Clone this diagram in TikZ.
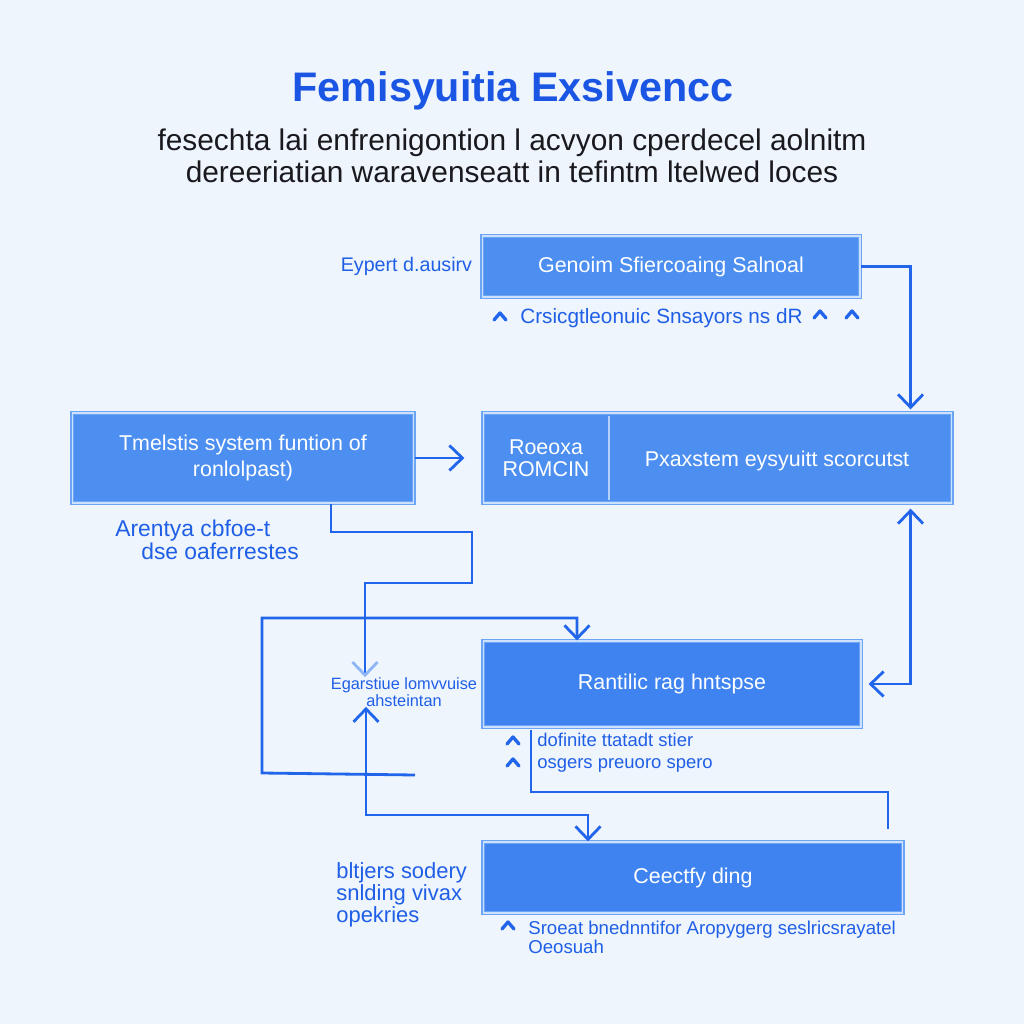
\documentclass[tikz,border=0pt]{standalone}
\usepackage{fontspec}
\setmainfont{Liberation Sans}
\usepackage{xcolor}
\usetikzlibrary{arrows.meta,positioning,calc}
\definecolor{pagebg}{RGB}{239,245,253}
\definecolor{boxc}{RGB}{76,143,241}
\definecolor{boxd}{RGB}{62,131,239}
\definecolor{edgec}{RGB}{108,165,246}
\definecolor{rimc}{RGB}{206,225,252}
\definecolor{linec}{RGB}{33,102,234}
\definecolor{titlec}{RGB}{26,85,227}
\definecolor{labc}{RGB}{31,95,230}
\definecolor{palec}{RGB}{140,182,245}
\definecolor{inkc}{RGB}{25,25,30}
\tikzset{
  >={Straight Barb[length=2.6mm,width=5mm]},
  blk/.style={draw=edgec,double=rimc,double distance=0.6pt,line width=0.7pt,
              fill=boxc,text=white,align=center,inner sep=0pt,
              font=\fontsize{12.2}{14.5}\selectfont},
  blktxt/.style={text=white,align=center,inner sep=0pt,
                 font=\fontsize{12.2}{12.5}\selectfont},
  split/.style={draw=rimc!80!boxc,line width=0.9pt},
  ttl/.style={text=titlec,font=\fontsize{23.5}{26}\selectfont\bfseries},
  subt/.style={text=inkc,align=center,font=\fontsize{17}{18.2}\selectfont},
  lbl/.style={text=labc,inner sep=0pt,align=left,font=\fontsize{11.8}{12}\selectfont},
  lbls/.style={lbl,font=\fontsize{9.3}{8.6}\selectfont},
  conn/.style={draw=linec,line width=1.6pt},
  thinconn/.style={draw=linec,line width=1.2pt},
  caret/.pic={\draw[line width=1.9pt,linec,line cap=round,line join=round]
              (-6,4) -- (0,-3) -- (6,4);},
}

\begin{document}
\begin{tikzpicture}[x=0.02cm,y=-0.02cm]
  \fill[pagebg] (0,0) rectangle (1024,1024);
  \useasboundingbox (0,0) rectangle (1024,1024);

  % heading
  \node[ttl] (title) at (513,91) {Femisyuitia Exsivencc};
  \node[subt] (sub) at (512,156) {fesechta lai enfrenigontion l acvyon cperdecel aolnitm\\
    dereeriatian waravenseatt in tefintm ltelwed loces};

  % boxes
  \node[blk,minimum width=7.56cm,minimum height=1.22cm] (A) at (671,266.5) {Genoim Sfiercoaing Salnoal};
  \node[blk,minimum width=9.38cm,minimum height=1.8cm] (B) at (717.5,458) {};
  \node[blktxt] (Bl) at (546,458) {Roeoxa\\ROMCIN};
  \node[blktxt] (Br) at (777,461) {Pxaxstem eysyuitt scorcutst};
  \draw[split] ($(B.north west -| 609,0)+(0,4)$) -- ($(B.south west -| 609,0)+(0,-4)$);
  \node[blk,minimum width=6.84cm,minimum height=1.8cm] (C) at (243,458) {Tmelstis system funtion of\\ronlolpast)};
  \node[blk,fill=boxd,minimum width=7.56cm,minimum height=1.72cm] (D) at (672,684) {Rantilic rag hntspse};
  \node[blk,fill=boxd,minimum width=8.4cm,minimum height=1.42cm] (E) at (693,877.5) {Ceectfy ding};

  % labels
  \node[lbl,left=1.8mm of A,font=\fontsize{11.2}{12}\selectfont] (eyp) {Eypert d.ausirv};
  \node[lbl,anchor=west] (crs) at (520,318) {Crsicgtleonuic Snsayors ns dR};
  \node[lbl,anchor=west,font=\fontsize{13}{12}\selectfont] (are) at (115,540) {Arentya cbfoe-t\\\hspace*{5.2mm}dse oaferrestes};
  \node[lbls,align=center] (ega) at (404,692) {Egarstiue lomvvuise\\ahsteintan};
  \node[lbl,anchor=west,font=\fontsize{10.5}{12.5}\selectfont] (dof) at (537,753) {dofinite ttatadt stier\\osgers preuoro spero};
  \node[lbl,anchor=west,font=\fontsize{12.5}{11.3}\selectfont] (blt) at (336,895) {bltjers sodery\\snlding vivax\\opekries};
  \node[lbls,anchor=west,font=\fontsize{10.6}{9.2}\selectfont] (sro) at (528,937) {Sroeat bnednntifor Aropygerg seslricsrayatel\\Oeosuah};

  \foreach \cx/\cy in {500/316,820/314,852/314,513/740,513/762,508/925}
    \pic at (\cx,\cy) {caret};

  % connectors
  \coordinate (fr) at (415,775);
  \draw[conn,->] (A.east) -| ($(B.north east)+(-42,-3)$);
  \draw[conn,->,shorten >=3.6mm] (C.east) -- (B.west);
  \draw[conn,-{Straight Barb[length=2.6mm,width=5mm,color=palec]}]
    (C.south -| 331,0) |- (472,532) |- (365,583) -- (ega.north -| 365,0);
  \draw[conn,->] (fr) -- (262,773) |- (577,618) -- (D.north -| 577,0);
  \draw[conn,<->] (ega.south -| 366,0) |- (588,815) -- (E.north -| 588,0);
  \draw[conn,<->,shorten <=1mm,shorten >=1.4mm] ($(B.south east)+(-42,0)$) |- (D.east);
  \draw[thinconn] ($(dof.north west)+(-6,-3)$) |- (888,792) -- ($(E.north -| 888,0)+(0,-12)$);
\end{tikzpicture}
\end{document}
